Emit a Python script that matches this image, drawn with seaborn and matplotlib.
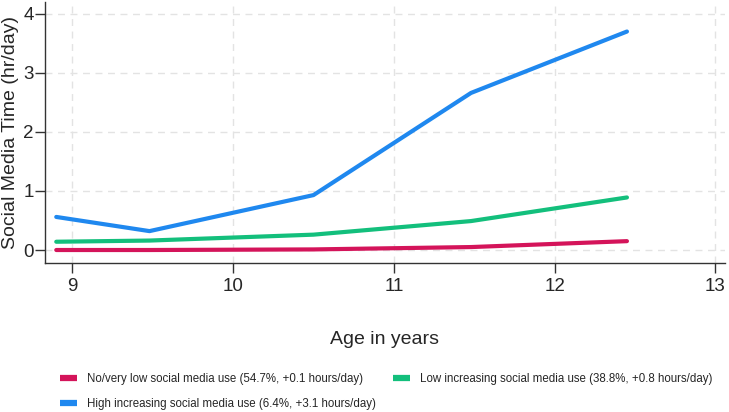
import matplotlib
matplotlib.use("Agg")
import matplotlib.pyplot as plt
from matplotlib.lines import Line2D
import seaborn as sns
import pandas as pd

ages = [8.9, 9.48, 10.5, 11.48, 12.45]
no_low = [0.00, 0.00, 0.01, 0.05, 0.15]
low_inc = [0.14, 0.16, 0.26, 0.49, 0.89]
high_inc = [0.56, 0.32, 0.93, 2.66, 3.70]

groups = [
    "No/very low social media use (54.7%, +0.1 hours/day)",
    "Low increasing social media use (38.8%, +0.8 hours/day)",
    "High increasing social media use (6.4%, +3.1 hours/day)",
]
colors = ["#d4145a", "#13bf7c", "#1f88ef"]
x_ticks = [9, 10, 11, 12, 13]
y_ticks = [0, 1, 2, 3, 4]

rows = []
for g, vals in zip(groups, [no_low, low_inc, high_inc]):
    for a, v in zip(ages, vals):
        rows.append({"age": a, "hours": v, "group": g})
df = pd.DataFrame(rows)

sns.set_style("white")
plt.rcParams["font.family"] = ["Liberation Sans", "DejaVu Sans"]

fig = plt.figure(figsize=(7.29, 4.12), dpi=100)
ax = fig.add_axes([45 / 729, 1 - 263 / 412, 680 / 729, 261 / 412])

sns.lineplot(data=df, x="age", y="hours", hue="group", hue_order=groups,
             palette=colors, linewidth=3.0, legend=False, ax=ax, zorder=3)

ax.set_xlim(8.83, 13.06)
ax.set_ylim(-0.22, 4.2)
ax.set_xticks(x_ticks)
ax.set_yticks(y_ticks)
ax.tick_params(axis="both", labelsize=13.5, length=7, width=1, color="#333333",
               direction="out", bottom=True, left=True)
ax.tick_params(axis="y", pad=1)
ax.tick_params(axis="x", pad=4)
ax.grid(True, color="#e3e3e3", linestyle=(0, (5, 4)), linewidth=1)
ax.set_axisbelow(True)
for s in ["top", "right"]:
    ax.spines[s].set_visible(False)
for s in ["left", "bottom"]:
    ax.spines[s].set_color("#333333")
    ax.spines[s].set_linewidth(1)

ax.set_xlabel("")
ax.set_ylabel("Social Media Time (hr/day)", fontsize=14)
ax.yaxis.set_label_coords(-0.038, 0.5)

fig.text(385 / 729, 1 - 340 / 412, "Age in years", fontsize=14,
         ha="center", va="center")

handles = [Line2D([0], [0], color=c, linewidth=4.5, solid_capstyle="butt") for c in colors]
order = [0, 2, 1]
fig.legend([handles[i] for i in order], [groups[i] for i in order],
           loc="upper left", bbox_to_anchor=(60 / 729, 1 - 373 / 412),
           ncol=2, frameon=False, fontsize=8.3, handlelength=1.5, handletextpad=0.85,
           columnspacing=1.45, labelspacing=1.15, borderaxespad=0, borderpad=0)

fig.savefig("out.png", dpi=100)
